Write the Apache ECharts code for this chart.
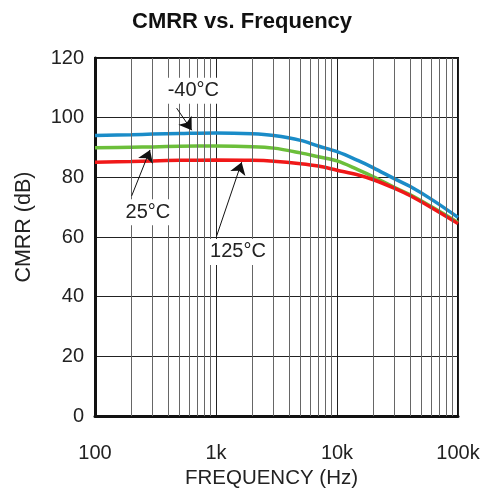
<!DOCTYPE html>
<html>
<head>
<meta charset="utf-8">
<script src="https://cdn.jsdelivr.net/npm/echarts@6/dist/echarts.min.js"></script>
<style>html,body{margin:0;padding:0;background:#fff}#c{width:490px;height:494px}</style>
</head>
<body>
<div id="c"></div>
<script>
const freqs = [100, 200, 300, 500, 1000, 2000, 3000, 5000, 7000, 10000, 15000, 20000, 30000, 40000, 60000, 100000];
const cmrrM40 = [94.0, 94.3, 94.5, 94.7, 94.9, 94.6, 94.0, 92.4, 90.5, 88.6, 85.6, 83.2, 79.5, 77.0, 72.7, 66.6];
const cmrr25 = [89.9, 90.1, 90.2, 90.4, 90.5, 90.3, 89.8, 88.2, 86.9, 85.5, 82.5, 80.2, 76.6, 74.2, 70.2, 64.9];
const cmrr125 = [85.1, 85.3, 85.5, 85.7, 85.8, 85.7, 85.4, 84.6, 83.8, 82.4, 80.8, 79.2, 76.3, 73.9, 69.9, 64.5];
const seriesNames = ['-40°C', '25°C', '125°C'];
const xTickValues = [100, 1000, 10000, 100000];
const xTickLabels = ['100', '1k', '10k', '100k'];
const minorFreqs = [200,300,400,500,600,700,800,900,2000,3000,4000,5000,6000,7000,8000,9000,20000,30000,40000,50000,60000,70000,80000,90000];
// annotations: label position, arrow start, arrow tip (freq, dB)
const annLabels = [[650, 109.0], [274, 68.3], [1520, 55.0]];
const annArrowStart = [[473, 103.2], [201, 73.8], [1013, 60.4]];
const annArrowTip = [[630, 95.8], [285, 89.2], [1630, 85.1]];

const FONT = 'Liberation Sans, Arial, Helvetica, sans-serif';
const colors = ['#1a8cc8', '#6cbf3a', '#f01818'];
const zip = (xs, ys) => xs.map((x, i) => [x, ys[i]]);
const dataSets = [cmrrM40, cmrr25, cmrr125];

const chart = echarts.init(document.getElementById('c'), null, {renderer: 'canvas'});

const series = [{
  type: 'line', data: [], z: 1, silent: true,
  markLine: {
    silent: true, symbol: 'none', animation: false,
    label: {show: false},
    lineStyle: {color: '#666', width: 1, type: 'solid'},
    data: minorFreqs.map(f => ({xAxis: f}))
  }
}];
dataSets.forEach((d, i) => {
  series.push({
    name: seriesNames[i], type: 'line', data: zip(freqs, d), smooth: 0.35,
    showSymbol: false, z: 3,
    lineStyle: {color: colors[i], width: 3.5},
    itemStyle: {color: colors[i]},
    markLine: {
      silent: true, animation: false,
      symbol: ['none', 'arrow'], symbolSize: 12,
      label: {show: false},
      itemStyle: {color: '#111'},
      lineStyle: {color: '#111', width: 1, type: 'solid'},
      data: [[{coord: annArrowStart[i]}, {coord: annArrowTip[i]}]]
    },
    markPoint: {
      silent: true, animation: false, symbol: 'rect', symbolSize: 0,
      label: {
        show: true, position: 'inside', formatter: seriesNames[i],
        color: '#222', fontSize: 20, fontFamily: FONT,
        backgroundColor: '#fff', padding: [3, 4]
      },
      data: [{coord: annLabels[i]}]
    }
  });
});

chart.setOption({
  animation: false,
  backgroundColor: '#fff',
  title: {
    text: 'CMRR vs. Frequency', left: 127, top: 6,
    textStyle: {fontSize: 22, fontWeight: 'bold', color: '#111', fontFamily: FONT}
  },
  grid: {left: 95, right: 32, top: 58, bottom: 76, show: true, borderColor: '#111', borderWidth: 2},
  xAxis: {
    type: 'log', logBase: 10, min: 100, max: 100000,
    name: 'FREQUENCY (Hz)', nameLocation: 'middle', nameGap: 50,
    nameTextStyle: {fontSize: 20.5, color: '#222', fontFamily: FONT, padding: [0, 10, 0, 0]},
    axisLine: {show: true, lineStyle: {color: '#111', width: 3}},
    axisTick: {show: false},
    axisLabel: {
      margin: 27, fontSize: 20, color: '#222', fontFamily: FONT,
      formatter: v => { const k = xTickValues.findIndex(t => Math.abs(t - v) / t < 1e-6); return k >= 0 ? xTickLabels[k] : ''; }
    },
    splitLine: {show: true, lineStyle: {color: '#222', width: 1}}
  },
  yAxis: {
    type: 'value', min: 0, max: 120, interval: 20,
    name: 'CMRR (dB)', nameLocation: 'middle', nameGap: 60,
    nameTextStyle: {fontSize: 21.5, color: '#222', fontFamily: FONT, padding: [0, 0, 0, 20]},
    axisLine: {show: true, lineStyle: {color: '#111', width: 3}},
    axisTick: {show: false},
    axisLabel: {margin: 11, fontSize: 20, color: '#222', fontFamily: FONT},
    splitLine: {show: true, lineStyle: {color: '#222', width: 1}}
  },
  series: series
});
</script>
</body>
</html>
